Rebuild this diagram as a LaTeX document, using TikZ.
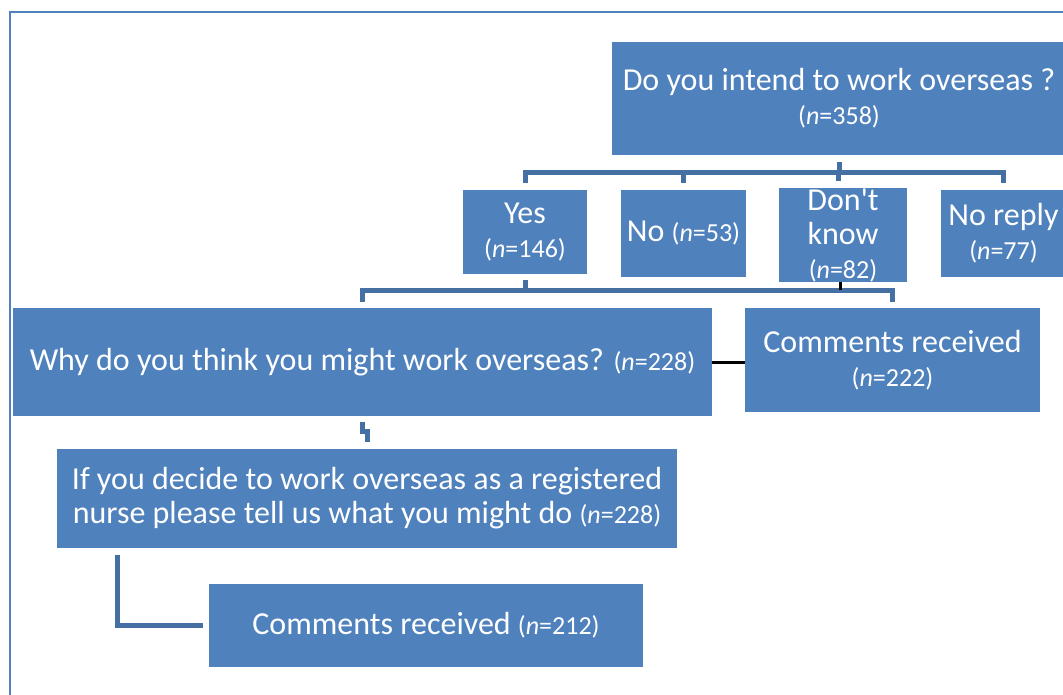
\documentclass[tikz,border=0pt]{standalone}
\usepackage{fontspec}
\setmainfont{Carlito}
\definecolor{boxblue}{RGB}{79,129,189}
\definecolor{lineblue}{RGB}{68,112,164}
\newcommand{\nfont}{\fontsize{26}{34}\selectfont}
\newcommand{\nval}[1]{{\nfont(\textit{n}=#1)}}
\tikzset{
  box/.style={fill=boxblue, text=white, align=center, inner sep=0pt,
    font=\fontsize{32}{34}\selectfont},
  conn/.style={draw=lineblue, line width=5pt},
  blackline/.style={draw=black, line width=3pt},
}
\begin{document}
\begin{tikzpicture}[x=1pt,y=-1pt]
  \useasboundingbox (0,0) rectangle (1063,695);
  \clip (0,0) rectangle (1063,695);
  % outer frame
  \draw [boxblue, line width=2pt] (10,710) |- (1080,12);
  % question and answers
  \node [box, minimum width=454, minimum height=113] (intend) at (839,98.5) {Do you intend to work overseas ?\\ \nval{358}};
  \node [box, minimum width=124, minimum height=84] (yes) at (525,232) {Yes\\ \nval{146}};
  \node [box, minimum width=125, minimum height=87] (no) at (683.5,233.5) {No \nval{53}};
  \node [box, minimum width=128, minimum height=90] (dontknow) at (843,235) {Don\textquotesingle t\\ know\\ \nval{82}};
  \node [box, minimum width=125, minimum height=87] (noreply) at (1003.5,233.5) {No reply\\ \nval{77}};
  \node [box, minimum width=699, minimum height=108] (why) at (362.5,362) {Why do you think you might work overseas? \nval{228}};
  \node [box, minimum width=295, minimum height=104] (comments1) at (892.5,360) {Comments received\\ \nval{222}};
  \node [box, minimum width=620, minimum height=99] (ifdecide) at (367,498.5) {If you decide to work overseas as a registered\\ nurse please tell us what you might do \nval{228}};
  \node [box, minimum width=434, minimum height=83] (comments2) at (426,625.5) {Comments received \nval{212}};
  % connectors
  \coordinate (bar1) at (838,173);
  \coordinate (bar2) at (525,290);
  \coordinate (ltop) at (117,555);
  \draw [conn] ([yshift=-7pt]intend.south) -- (intend.south |- bar1);
  \draw [conn] ([yshift=7pt]yes.north) -- (yes.north |- bar1) -- (noreply.north |- bar1) -- ([yshift=7pt]noreply.north);
  \draw [conn] (no.north |- bar1) -- ([yshift=7pt]no.north);
  \draw [conn] ([xshift=-5pt]dontknow.north |- bar1) -- ([xshift=-5pt,yshift=7pt]dontknow.north);
  \draw [conn] ([yshift=-6pt]yes.south) -- (yes.south |- bar2);
  \draw [conn] ([yshift=6pt]why.north) -- (why.north |- bar2) -- (comments1.north |- bar2) -- ([yshift=6pt]comments1.north);
  \draw [blackline] ([xshift=-3pt]dontknow.south) -- ([xshift=-3pt]dontknow.south |- bar2);
  \draw [blackline] (why.east) -- (why.east -| comments1.west);
  \draw [conn] ([yshift=-6pt]why.south) -- ++(0,9) -- ++(5,0) -- ++(0,11);
  \draw [conn] (ltop) |- ([xshift=-6pt]comments2.west);
\end{tikzpicture}
\end{document}
